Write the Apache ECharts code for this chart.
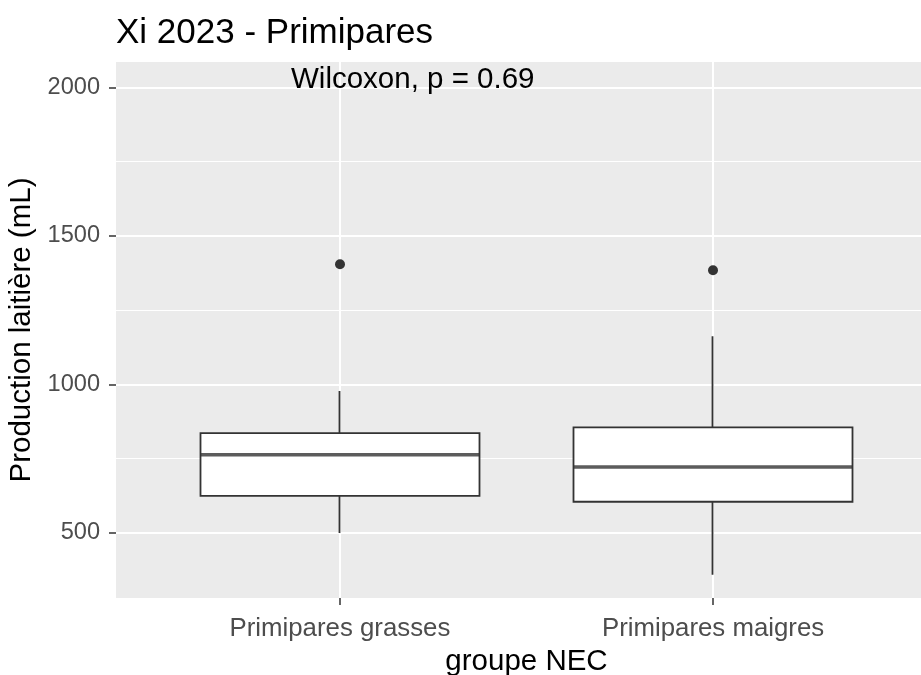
<!DOCTYPE html>
<html>
<head>
<meta charset="utf-8">
<script src="https://cdn.jsdelivr.net/npm/echarts@6/dist/echarts.min.js"></script>
<style>html,body{margin:0;padding:0;background:#fff;}#c{width:921px;height:675px;}</style>
</head>
<body>
<div id="c"></div>
<script>
const categories = ['Primipares grasses', 'Primipares maigres'];
// box statistics per group
const lowerWhisker = [500, 359];
const q1 = [625, 605];
const median = [763, 722];
const q3 = [836, 855];
const upperWhisker = [978, 1162];
const outliers = [[0, 1404], [1, 1384]];
const yMajorTicks = [500, 1000, 1500, 2000];
const yMinorTicks = [750, 1250, 1750];
const xTickPositions = [1, 2];
const yMin = 281, yMax = 2085;
const titleText = 'Xi 2023 - Primipares';
const annotation = 'Wilcoxon, p = 0.69';
const xName = 'groupe NEC';
const yName = 'Production laitière (mL)';

const FONT = 'Liberation Sans, Arial, sans-serif';
const chart = echarts.init(document.getElementById('c'), null, {renderer: 'canvas'});

// candlestick: [open, close, lowest, highest] -> box Q1..Q3, whiskers without caps
const boxData = categories.map((c, i) => [q1[i], q3[i], lowerWhisker[i], upperWhisker[i]]);
const medianData = categories.map((c, i) => [i, median[i]]);

chart.setOption({
  animation: false,
  backgroundColor: '#ffffff',
  title: {
    text: titleText, left: 116, top: 16, padding: 0,
    textStyle: {fontFamily: FONT, fontSize: 35, fontWeight: 'normal', color: '#000'}
  },
  grid: [
    {left: 116, top: 62, width: 821, height: 536, show: true, backgroundColor: '#EBEBEB', borderWidth: 0, containLabel: false, outerBoundsMode: 'none'},
    {left: 153.5, top: 62, width: 746, height: 536, containLabel: false, outerBoundsMode: 'none'}
  ],
  xAxis: [
    {
      type: 'value', gridIndex: 0, min: 0.4, max: 2.6,
      name: xName, nameLocation: 'middle', nameGap: 47,
      nameTextStyle: {fontFamily: FONT, fontSize: 29.5, color: '#000'},
      axisLine: {show: false},
      axisTick: {show: true, customValues: xTickPositions, length: 7, lineStyle: {color: '#333', width: 1.5}},
      axisLabel: {show: true, customValues: xTickPositions, margin: 18, fontFamily: FONT, fontSize: 25.8, color: '#4D4D4D',
        formatter: v => categories[Math.round(v) - 1] || ''},
      splitLine: {show: true, lineStyle: {color: '#fff', width: 2}}
    },
    {
      type: 'category', gridIndex: 1, data: categories, boundaryGap: true,
      axisLine: {show: false}, axisTick: {show: false}, axisLabel: {show: false}, splitLine: {show: false}
    }
  ],
  yAxis: [
    {
      type: 'value', gridIndex: 0, min: yMin, max: yMax,
      name: yName, nameLocation: 'middle', nameGap: 72, nameRotate: 90,
      nameTextStyle: {fontFamily: FONT, fontSize: 29.5, color: '#000'},
      axisLine: {show: false},
      axisTick: {show: true, customValues: yMajorTicks, length: 7, lineStyle: {color: '#333', width: 1.5}},
      axisLabel: {show: true, customValues: yMajorTicks, margin: 16, fontFamily: FONT, fontSize: 23.6, color: '#4D4D4D',
        formatter: v => String(v)},
      splitLine: {show: true, lineStyle: {color: '#fff', width: 2}}
    },
    {
      type: 'value', gridIndex: 0, min: yMin, max: yMax, position: 'left',
      axisLine: {show: false},
      axisTick: {show: false, customValues: yMinorTicks},
      axisLabel: {show: false, customValues: yMinorTicks},
      splitLine: {show: true, lineStyle: {color: '#fff', width: 1}}
    },
    {
      type: 'value', gridIndex: 1, min: yMin, max: yMax,
      axisLine: {show: false}, axisTick: {show: false}, axisLabel: {show: false}, splitLine: {show: false}
    }
  ],
  series: [
    {
      type: 'candlestick', xAxisIndex: 1, yAxisIndex: 2,
      data: boxData,
      barWidth: 279, barMaxWidth: 400,
      itemStyle: {color: '#ffffff', color0: '#ffffff', borderColor: '#333333', borderColor0: '#333333', borderWidth: 1.8},
      emphasis: {disabled: true},
      silent: true, z: 3
    },
    {
      type: 'scatter', xAxisIndex: 1, yAxisIndex: 2,
      data: medianData,
      symbol: 'rect', symbolSize: [279, 3.6],
      itemStyle: {color: '#333333'},
      emphasis: {disabled: true}, silent: true, z: 4
    },
    {
      type: 'scatter', xAxisIndex: 1, yAxisIndex: 2,
      data: outliers,
      symbol: 'circle', symbolSize: 10,
      itemStyle: {color: '#333333', opacity: 1},
      emphasis: {disabled: true}, silent: true, z: 4
    }
  ],
  graphic: [
    {
      type: 'text', left: 291, top: 65, z: 10,
      style: {text: annotation, font: '29.5px ' + FONT, fill: '#000'}
    }
  ]
});
</script>
</body>
</html>
